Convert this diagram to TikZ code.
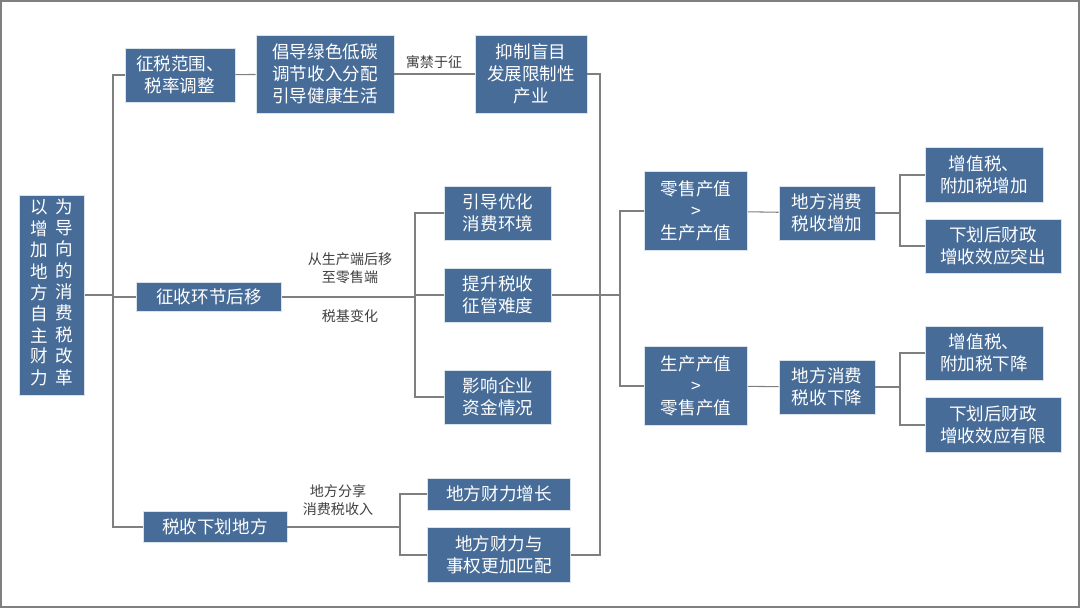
\documentclass[tikz,border=0pt]{standalone}
\usepackage{fontspec}
\setmainfont{Noto Sans CJK SC}
\definecolor{boxblue}{HTML}{476C98}
\definecolor{linegray}{HTML}{7F7F7F}
\tikzset{
  box/.style={fill=boxblue, draw=white!80!boxblue, text=white, align=center, inner sep=2pt,
    font=\fontsize{10}{12.6}\selectfont},
  lbl/.style={text=black!75, align=center, font=\fontsize{8}{10.5}\selectfont},
  link/.style={draw=linegray, line width=0.6pt}
}
\begin{document}
\begin{tikzpicture}[x=0.02cm, y=-0.02cm]
\useasboundingbox (0,0) rectangle (1080,608);
\draw[linegray, line width=0.8pt] (1,1) rectangle (1079,607);

% root
\node[box, minimum width=65*0.02cm, minimum height=200*0.02cm] (root) at (52,295)
  {\begin{tabular}{@{}c@{\hspace{4pt}}c@{}}\shortstack{以\\增\\加\\地\\方\\自\\主\\财\\力} & \shortstack{为\\导\\向\\的\\消\\费\\税\\改\\革}\end{tabular}};

% first branch
\node[box, minimum width=110*0.02cm, minimum height=54*0.02cm] (scope) at (180,75) {征税范围、\\税率调整};
\node[box, minimum width=138*0.02cm, minimum height=78*0.02cm] (green) at (325,74) {倡导绿色低碳\\调节收入分配\\引导健康生活};
\node[box, minimum width=112*0.02cm, minimum height=78*0.02cm] (curb) at (531,74) {抑制盲目\\发展限制性\\产业};
\node[lbl] (tax) at (434,62) {寓禁于征};

% second branch
\node[box, minimum width=145*0.02cm, minimum height=29*0.02cm] (shift) at (209,297) {征收环节后移};
\node[box, minimum width=107*0.02cm, minimum height=54*0.02cm] (guide) at (498,213) {引导优化\\消费环境};
\node[box, minimum width=107*0.02cm, minimum height=54*0.02cm] (raise) at (498,295) {提升税收\\征管难度};
\node[box, minimum width=107*0.02cm, minimum height=54*0.02cm] (firm) at (498,397) {影响企业\\资金情况};
\node[lbl] (move) at (350,268) {从生产端后移\\至零售端};
\node[lbl] (base) at (350,316) {税基变化};

% third branch
\node[box, minimum width=144*0.02cm, minimum height=31*0.02cm] (local) at (215,527) {税收下划地方};
\node[box, minimum width=143*0.02cm, minimum height=32*0.02cm] (grow) at (499,494) {地方财力增长};
\node[box, minimum width=143*0.02cm, minimum height=55*0.02cm] (match) at (499,555) {地方财力与\\事权更加匹配};
\node[lbl] (share) at (338,500) {地方分享\\消费税收入};

% right part
\node[box, minimum width=103*0.02cm, minimum height=79*0.02cm] (retail) at (696,211) {零售产值\\>\\生产产值};
\node[box, minimum width=103*0.02cm, minimum height=79*0.02cm] (prod) at (696,386) {生产产值\\>\\零售产值};
\node[box, minimum width=96*0.02cm, minimum height=54*0.02cm] (up) at (827,213) {地方消费\\税收增加};
\node[box, minimum width=96*0.02cm, minimum height=54*0.02cm] (down) at (827,387) {地方消费\\税收下降};
\node[box, minimum width=118*0.02cm, minimum height=55*0.02cm] (vatup) at (984,175) {增值税、\\附加税增加};
\node[box, minimum width=136*0.02cm, minimum height=54*0.02cm] (effup) at (993,246) {下划后财政\\增收效应突出};
\node[box, minimum width=118*0.02cm, minimum height=54*0.02cm] (vatdn) at (984,353) {增值税、\\附加税下降};
\node[box, minimum width=136*0.02cm, minimum height=55*0.02cm] (effdn) at (993,425) {下划后财政\\增收效应有限};

% connectors
\coordinate (j0) at (113,295);
\draw[link] (root.east) -- (j0);
\draw[link] (j0) |- (scope.west);
\draw[link] (j0) |- (shift.west);
\draw[link] (j0) |- (local.west);
\draw[link] (scope) -- (green);
\draw[link] (green) -- (curb);

\coordinate (j1) at (415,297);
\draw[link] (shift.east) -- (j1);
\draw[link] (j1) |- (guide.west);
\draw[link] (j1) |- (raise.west);
\draw[link] (j1) |- (firm.west);

\coordinate (j2) at (400,527);
\draw[link] (local.east) -- (j2);
\draw[link] (j2) |- (grow.west);
\draw[link] (j2) |- (match.west);

\coordinate (j3) at (600,74);
\draw[link] (curb.east) -- (j3) |- (match.east);

\coordinate (j4) at (620,295);
\draw[link] (raise.east) -- (j4);
\draw[link] (j4) |- (retail.west);
\draw[link] (j4) |- (prod.west);
\draw[link] (retail) -- (up);
\draw[link] (prod) -- (down);

\coordinate (j5) at (900,213);
\draw[link] (up.east) -- (j5);
\draw[link] (j5) |- (vatup.west);
\draw[link] (j5) |- (effup.west);
\coordinate (j6) at (900,387);
\draw[link] (down.east) -- (j6);
\draw[link] (j6) |- (vatdn.west);
\draw[link] (j6) |- (effdn.west);
\end{tikzpicture}
\end{document}
